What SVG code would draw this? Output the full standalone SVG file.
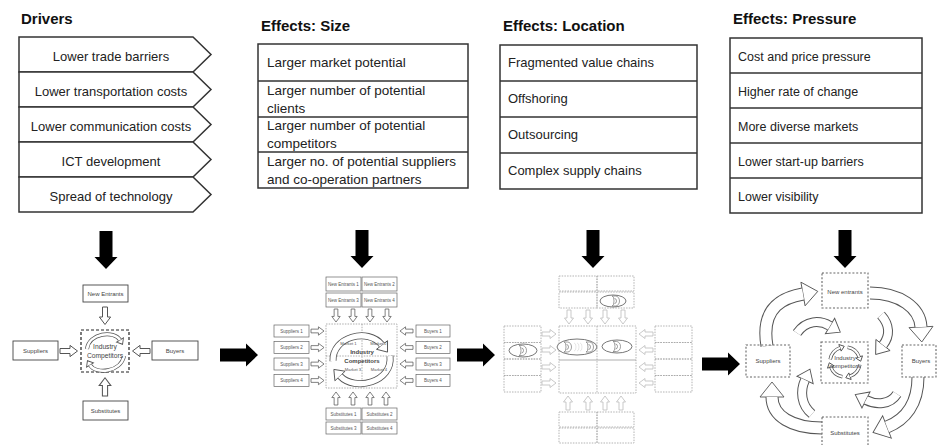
<svg xmlns="http://www.w3.org/2000/svg" xmlns:xlink="http://www.w3.org/1999/xlink" width="937" height="445" viewBox="0 0 937 445">
<style>
text{font-family:"Liberation Sans",Arial,sans-serif;fill:#222}
.title{font-size:15px;font-weight:bold;fill:#111}
.t13{font-size:13px}
.t135{font-size:13.5px}
.t125{font-size:12.5px}
.mid{text-anchor:middle}
.box{fill:#fff;stroke:#333;stroke-width:1.5}
.sep{stroke:#333;stroke-width:1.5}
.nb{fill:#fff;stroke:#444;stroke-width:0.9}
.nb2{fill:#fff;stroke:#666;stroke-width:0.7}
.dsh{fill:none;stroke:#222;stroke-width:1.2;stroke-dasharray:3 2}
.dsh2{fill:none;stroke:#999;stroke-width:0.8;stroke-dasharray:1.5 1.2}
.dsh3{fill:none;stroke:#aaa;stroke-width:0.9;stroke-dasharray:1.5 1.2}
.dsh4{fill:none;stroke:#666;stroke-width:1.1;stroke-dasharray:2 1.8}
.s6{font-size:6px;fill:#444}
.s45{font-size:4.5px;fill:#555}
.s42{font-size:4.2px;fill:#555}
.b6{font-size:6px;font-weight:bold;fill:#444}
.ha{fill:#fff;stroke:#555;stroke-width:0.8}
.ha2{fill:#fff;stroke:#bbb;stroke-width:0.8}
.blk{fill:#000}
.bo{fill:none;stroke:#555}
.bi{fill:none;stroke:#fff}
.hd{fill:#fff;stroke:#555;stroke-width:0.9}
.ov{fill:#fff;stroke:#777;stroke-width:1}
.cup{fill:#fff;stroke:#777;stroke-width:0.7}
</style>
<defs>
<path id="bigA" d="M-6.5,0 H6.5 V26 H11.5 L0,38 L-11.5,26 H-6.5 Z"/>
<path id="hA" d="M-2,0 H2 V8 H4.5 L0,14 L-4.5,8 H-2 Z"/>
<g id="cup">
<path d="M-3,-5 H0.5 A4,5 0 0 1 0.5,5 H-3 A2,5 0 0 0 -3,-5 Z"/>
<path d="M-0.5,-2.5 A2,2.5 0 0 1 -0.5,2.5" fill="none"/>
</g>
<marker id="mL" markerUnits="userSpaceOnUse" markerWidth="17" markerHeight="26" viewBox="-1 -13 17 26" refX="0" refY="0" orient="auto" overflow="visible"><path class="hd" d="M0,-12 L15,0 L0,12 Z"/></marker>
<marker id="mI" markerUnits="userSpaceOnUse" markerWidth="14" markerHeight="20" viewBox="-1 -10 14 20" refX="0" refY="0" orient="auto" overflow="visible"><path class="hd" d="M0,-9 L12,0 L0,9 Z"/></marker>
<marker id="mM" markerUnits="userSpaceOnUse" markerWidth="11" markerHeight="16" viewBox="-1 -8 11 16" refX="0" refY="0" orient="auto" overflow="visible"><path class="hd" d="M0,-7 L9,0 L0,7 Z"/></marker>
<marker id="mS" markerUnits="userSpaceOnUse" markerWidth="7" markerHeight="10" viewBox="-1 -5 7 10" refX="0" refY="0" orient="auto" overflow="visible"><path class="hd" d="M0,-4 L5,0 L0,4 Z" stroke-width="0.6"/></marker>
<marker id="mT" markerUnits="userSpaceOnUse" markerWidth="7" markerHeight="9" viewBox="-1 -4.5 7 9" refX="0" refY="0" orient="auto" overflow="visible"><path class="hd" d="M0,-3.5 L4.5,0 L0,3.5 Z" stroke-width="0.6"/></marker>
</defs>
<rect width="937" height="445" fill="#fff"/>

<!-- Drivers -->
<g id="drivers">
<text class="title" x="21" y="24">Drivers</text>
<path class="box" d="M19,37 H193 L211,54.5 L193,72 H19 Z"/>
<path class="box" d="M19,72 H193 L211,89.5 L193,107 H19 Z"/>
<path class="box" d="M19,107 H193 L211,124.5 L193,142 H19 Z"/>
<path class="box" d="M19,142 H193 L211,159.5 L193,177 H19 Z"/>
<path class="box" d="M19,177 H193 L211,194.5 L193,212 H19 Z"/>
<text class="t13 mid" x="111" y="60.5">Lower trade barriers</text>
<text class="t13 mid" x="111" y="95.5">Lower transportation costs</text>
<text class="t13 mid" x="111" y="130.5">Lower communication costs</text>
<text class="t13 mid" x="111" y="165.5">ICT development</text>
<text class="t13 mid" x="111" y="200.5">Spread of technology</text>
</g>

<!-- Effects: Size -->
<g id="effects-size">
<text class="title" x="261" y="31">Effects: Size</text>
<rect class="box" x="258" y="44" width="210" height="144"/>
<line class="sep" x1="258" y1="81" x2="468" y2="81"/>
<line class="sep" x1="258" y1="117" x2="468" y2="117"/>
<line class="sep" x1="258" y1="152" x2="468" y2="152"/>
<text class="t135" x="267" y="66.5">Larger market potential</text>
<text class="t135" x="267" y="94.5">Larger number of potential</text>
<text class="t135" x="267" y="112.5">clients</text>
<text class="t135" x="267" y="130">Larger number of potential</text>
<text class="t135" x="267" y="148">competitors</text>
<text class="t135" x="267" y="166">Larger no. of potential suppliers</text>
<text class="t135" x="267" y="184">and co-operation partners</text>
</g>

<!-- Effects: Location -->
<g id="effects-location">
<text class="title" x="503" y="31">Effects: Location</text>
<rect class="box" x="500" y="45" width="197" height="144"/>
<line class="sep" x1="500" y1="81" x2="697" y2="81"/>
<line class="sep" x1="500" y1="117" x2="697" y2="117"/>
<line class="sep" x1="500" y1="153" x2="697" y2="153"/>
<text class="t13" x="508" y="67">Fragmented value chains</text>
<text class="t13" x="508" y="103">Offshoring</text>
<text class="t13" x="508" y="139">Outsourcing</text>
<text class="t13" x="508" y="175">Complex supply chains</text>
</g>

<!-- Effects: Pressure -->
<g id="effects-pressure">
<text class="title" x="733" y="24">Effects: Pressure</text>
<rect class="box" x="730" y="38" width="192" height="175"/>
<line class="sep" x1="730" y1="73" x2="922" y2="73"/>
<line class="sep" x1="730" y1="108" x2="922" y2="108"/>
<line class="sep" x1="730" y1="143" x2="922" y2="143"/>
<line class="sep" x1="730" y1="178" x2="922" y2="178"/>
<text class="t125" x="738" y="61">Cost and price pressure</text>
<text class="t125" x="738" y="96">Higher rate of change</text>
<text class="t125" x="738" y="131">More diverse markets</text>
<text class="t125" x="738" y="166">Lower start-up barriers</text>
<text class="t125" x="738" y="201">Lower visibility</text>
</g>

<!-- Big black arrows -->
<g id="connectors">
<use href="#bigA" class="blk" transform="translate(106,231)"/>
<use href="#bigA" class="blk" transform="translate(362,230)"/>
<use href="#bigA" class="blk" transform="translate(593,230)"/>
<use href="#bigA" class="blk" transform="translate(845,230)"/>
<use href="#bigA" class="blk" transform="translate(220,355) rotate(-90)"/>
<use href="#bigA" class="blk" transform="translate(457,355) rotate(-90)"/>
<use href="#bigA" class="blk" transform="translate(702,364) rotate(-90)"/>
</g>

<!-- Diagram 1: Five forces -->
<g id="ff1">
<rect class="nb" x="83" y="285" width="45" height="17"/>
<text class="s6 mid" x="105.5" y="295.5">New Entrants</text>
<rect class="nb" x="13" y="341" width="45" height="19"/>
<text class="s6 mid" x="35.5" y="352.5">Suppliers</text>
<rect class="nb" x="152" y="341" width="46" height="19"/>
<text class="s6 mid" x="175" y="352.5">Buyers</text>
<rect class="nb" x="83" y="401" width="45" height="19"/>
<text class="s6 mid" x="105.5" y="412.5">Substitutes</text>
<rect class="dsh" x="81" y="330" width="48" height="42"/>
<use href="#hA" class="ha" transform="translate(105,307) scale(1.25)"/>
<use href="#hA" class="ha" transform="translate(105,396) rotate(180) scale(1.3)"/>
<use href="#hA" class="ha" transform="translate(60,351) rotate(-90) scale(1.25)"/>
<use href="#hA" class="ha" transform="translate(150,351) rotate(90) scale(1.25)"/>
<path class="bo" stroke-width="4" d="M87,349 C89,333 114,330 120,340" marker-end="url(#mS)"/>
<path class="bi" stroke-width="2.6" d="M87,349 C89,333 114,330 120,340"/>
<path class="bo" stroke-width="4" d="M124,356 C121,372 96,375 90,365" marker-end="url(#mS)"/>
<path class="bi" stroke-width="2.6" d="M124,356 C121,372 96,375 90,365"/>
<text class="mid" x="105" y="349" style="font-size:6.7px;fill:#444">Industry</text>
<text class="mid" x="105" y="357.5" style="font-size:6.7px;fill:#444">Competitors</text>
</g>

<!-- Diagram 2: segmented five forces -->
<g id="ff2">
<rect class="nb2" x="326" y="277" width="35" height="14"/>
<rect class="nb2" x="362" y="277" width="35" height="14"/>
<rect class="nb2" x="326" y="293" width="35" height="14"/>
<rect class="nb2" x="362" y="293" width="35" height="14"/>
<text class="s45 mid" x="343.5" y="285.6">New Entrants 1</text>
<text class="s45 mid" x="379.5" y="285.6">New Entrants 2</text>
<text class="s45 mid" x="343.5" y="301.6">New Entrants 3</text>
<text class="s45 mid" x="379.5" y="301.6">New Entrants 4</text>
<rect class="nb2" x="274" y="325" width="35" height="12"/>
<rect class="nb2" x="274" y="341.5" width="35" height="12"/>
<rect class="nb2" x="274" y="358" width="35" height="12"/>
<rect class="nb2" x="274" y="374.5" width="35" height="12"/>
<text class="s45 mid" x="291.5" y="332.6">Suppliers 1</text>
<text class="s45 mid" x="291.5" y="349.1">Suppliers 2</text>
<text class="s45 mid" x="291.5" y="365.6">Suppliers 3</text>
<text class="s45 mid" x="291.5" y="382.1">Suppliers 4</text>
<rect class="nb2" x="416" y="325" width="34" height="12"/>
<rect class="nb2" x="416" y="341.5" width="34" height="12"/>
<rect class="nb2" x="416" y="358" width="34" height="12"/>
<rect class="nb2" x="416" y="374.5" width="34" height="12"/>
<text class="s45 mid" x="433" y="332.6">Buyers 1</text>
<text class="s45 mid" x="433" y="349.1">Buyers 2</text>
<text class="s45 mid" x="433" y="365.6">Buyers 3</text>
<text class="s45 mid" x="433" y="382.1">Buyers 4</text>
<rect class="nb2" x="326" y="408" width="35" height="12"/>
<rect class="nb2" x="362" y="408" width="35" height="12"/>
<rect class="nb2" x="326" y="422" width="35" height="12"/>
<rect class="nb2" x="362" y="422" width="35" height="12"/>
<text class="s45 mid" x="343.5" y="415.6">Substitutes 1</text>
<text class="s45 mid" x="379.5" y="415.6">Substitutes 2</text>
<text class="s45 mid" x="343.5" y="429.6">Substitutes 3</text>
<text class="s45 mid" x="379.5" y="429.6">Substitutes 4</text>
<rect class="dsh2" x="326" y="324" width="71" height="64"/>
<line class="dsh2" x1="362" y1="324" x2="362" y2="388"/>
<line class="dsh2" x1="326" y1="356" x2="397" y2="356"/>
<use href="#hA" class="ha" transform="translate(336,309) scale(0.93)"/>
<use href="#hA" class="ha" transform="translate(353,309) scale(0.93)"/>
<use href="#hA" class="ha" transform="translate(370,309) scale(0.93)"/>
<use href="#hA" class="ha" transform="translate(387,309) scale(0.93)"/>
<use href="#hA" class="ha" transform="translate(336,405) rotate(180) scale(0.93)"/>
<use href="#hA" class="ha" transform="translate(353,405) rotate(180) scale(0.93)"/>
<use href="#hA" class="ha" transform="translate(370,405) rotate(180) scale(0.93)"/>
<use href="#hA" class="ha" transform="translate(386,405) rotate(180) scale(0.93)"/>
<use href="#hA" class="ha" transform="translate(311,331) rotate(-90) scale(0.93)"/>
<use href="#hA" class="ha" transform="translate(311,347.5) rotate(-90) scale(0.93)"/>
<use href="#hA" class="ha" transform="translate(311,364) rotate(-90) scale(0.93)"/>
<use href="#hA" class="ha" transform="translate(311,380.5) rotate(-90) scale(0.93)"/>
<use href="#hA" class="ha" transform="translate(413,331) rotate(90) scale(0.93)"/>
<use href="#hA" class="ha" transform="translate(413,347.5) rotate(90) scale(0.93)"/>
<use href="#hA" class="ha" transform="translate(413,364) rotate(90) scale(0.93)"/>
<use href="#hA" class="ha" transform="translate(413,380.5) rotate(90) scale(0.93)"/>
<path class="bo" stroke-width="7" d="M333,361 C332,337 368,327 382,345" marker-end="url(#mM)"/>
<path class="bi" stroke-width="5.4" d="M333,361 C332,337 368,327 382,345"/>
<path class="bo" stroke-width="7" d="M390,356 C393,382 355,392 340,376" marker-end="url(#mM)"/>
<path class="bi" stroke-width="5.4" d="M390,356 C393,382 355,392 340,376"/>
<text class="s42 mid" x="348.5" y="345">Market 1</text>
<text class="s42 mid" x="378.5" y="345">Market 2</text>
<text class="s42 mid" x="353" y="371">Market 3</text>
<text class="s42 mid" x="379" y="371">Market 4</text>
<text class="b6 mid" x="362" y="354">Industry</text>
<text class="b6 mid" x="362" y="362.5">Competitors</text>
</g>

<!-- Diagram 3: fragmented value chains -->
<g id="ff3">
<rect class="dsh3" x="559" y="276" width="38" height="15"/>
<rect class="dsh3" x="597" y="276" width="37" height="15"/>
<rect class="dsh3" x="559" y="292" width="38" height="16"/>
<rect class="dsh3" x="597" y="292" width="37" height="16"/>
<ellipse class="ov" cx="613" cy="301" rx="13" ry="6"/>
<use href="#cup" class="cup" x="615" y="301"/>
<rect class="dsh3" x="504" y="326" width="37" height="16.5"/>
<rect class="dsh3" x="504" y="342.5" width="37" height="16.5"/>
<rect class="dsh3" x="504" y="359" width="37" height="16.5"/>
<rect class="dsh3" x="504" y="375.5" width="37" height="16.5"/>
<ellipse class="ov" cx="523" cy="350.5" rx="14" ry="6.5"/>
<use href="#cup" class="cup" x="522" y="350.5"/>
<rect class="dsh3" x="655" y="326" width="37" height="16.5"/>
<rect class="dsh3" x="655" y="342.5" width="37" height="16.5"/>
<rect class="dsh3" x="655" y="359" width="37" height="16.5"/>
<rect class="dsh3" x="655" y="375.5" width="37" height="16.5"/>
<rect class="dsh3" x="559" y="326" width="77" height="67"/>
<line class="dsh3" x1="597" y1="326" x2="597" y2="393"/>
<line x1="559" y1="360" x2="636" y2="360" stroke="#999" stroke-width="0.8"/>
<ellipse class="ov" cx="577" cy="347" rx="20" ry="8"/>
<path d="M574,343 a2,4 0 0 1 0,8 M577,343 a2,4 0 0 1 0,8 M580,343 a2,4 0 0 1 0,8" fill="none" stroke="#ddd" stroke-width="0.7"/>
<use href="#cup" class="cup" x="567" y="347"/>
<use href="#cup" class="cup" x="589" y="347"/>
<ellipse class="ov" cx="617" cy="346.5" rx="15" ry="6.5"/>
<use href="#cup" class="cup" x="616" y="346.5"/>
<rect class="dsh3" x="559" y="412" width="38" height="15"/>
<rect class="dsh3" x="597" y="412" width="37" height="15"/>
<rect class="dsh3" x="559" y="428" width="38" height="15"/>
<rect class="dsh3" x="597" y="428" width="37" height="15"/>
<use href="#hA" class="ha2" transform="translate(569,310)"/>
<use href="#hA" class="ha2" transform="translate(588,310)"/>
<use href="#hA" class="ha2" transform="translate(605,310)"/>
<use href="#hA" class="ha2" transform="translate(623,310)"/>
<use href="#hA" class="ha2" transform="translate(568,410) rotate(180)"/>
<use href="#hA" class="ha2" transform="translate(588,410) rotate(180)"/>
<use href="#hA" class="ha2" transform="translate(605,410) rotate(180)"/>
<use href="#hA" class="ha2" transform="translate(621,410) rotate(180)"/>
<use href="#hA" class="ha2" transform="translate(542,334) rotate(-90)"/>
<use href="#hA" class="ha2" transform="translate(542,350) rotate(-90)"/>
<use href="#hA" class="ha2" transform="translate(542,367) rotate(-90)"/>
<use href="#hA" class="ha2" transform="translate(542,383) rotate(-90)"/>
<use href="#hA" class="ha2" transform="translate(653,334) rotate(90)"/>
<use href="#hA" class="ha2" transform="translate(653,350) rotate(90)"/>
<use href="#hA" class="ha2" transform="translate(653,367) rotate(90)"/>
<use href="#hA" class="ha2" transform="translate(653,383) rotate(90)"/>
</g>

<!-- Diagram 4: pressure cycle -->
<g id="ff4-arrows">
<path class="bo" stroke-width="13" d="M767,346 C760,305 786,297 803,294" marker-end="url(#mL)"/>
<path class="bi" stroke-width="11" d="M767,346 C760,305 786,297 803,294"/>
<path class="bo" stroke-width="13" d="M870,293 C900,293 920,308 921,327" marker-end="url(#mL)"/>
<path class="bi" stroke-width="11" d="M870,293 C900,293 920,308 921,327"/>
<path class="bo" stroke-width="13" d="M918,377 C918,404 905,420 887,427" marker-end="url(#mL)"/>
<path class="bi" stroke-width="11" d="M918,377 C918,404 905,420 887,427"/>
<path class="bo" stroke-width="13" d="M822,428 C792,428 772,416 772,397" marker-end="url(#mL)"/>
<path class="bi" stroke-width="11" d="M822,428 C792,428 772,416 772,397"/>
<path class="bo" stroke-width="10" d="M797,333 C806,320 820,320 830,326" marker-end="url(#mI)"/>
<path class="bi" stroke-width="8" d="M797,333 C806,320 820,320 830,326"/>
<path class="bo" stroke-width="10" d="M881,315 C890,325 890,336 883,345" marker-end="url(#mI)"/>
<path class="bi" stroke-width="8" d="M881,315 C890,325 890,336 883,345"/>
<path class="bo" stroke-width="10" d="M897,394 C890,405 876,405 866,400" marker-end="url(#mI)"/>
<path class="bi" stroke-width="8" d="M897,394 C890,405 876,405 866,400"/>
<path class="bo" stroke-width="10" d="M812,414 C801,405 800,391 805,380" marker-end="url(#mI)"/>
<path class="bi" stroke-width="8" d="M812,414 C801,405 800,391 805,380"/>
</g>
<g id="ff4-new-entrants">
<rect class="dsh4" x="822" y="273" width="46" height="35" fill="#fff"/>
<text class="s6 mid" x="845" y="294">New entrants</text>
</g>
<g id="ff4-suppliers">
<rect class="dsh4" x="746" y="345" width="44" height="32"/>
<text class="s6 mid" x="768" y="363">Suppliers</text>
</g>
<g id="ff4-buyers">
<rect class="dsh4" x="902" y="345" width="34" height="32"/>
<text class="s6 mid" x="921" y="363">Buyers</text>
</g>
<g id="ff4-substitutes">
<rect class="dsh4" x="822" y="417" width="46" height="33"/>
<text class="s6 mid" x="845" y="435">Substitutes</text>
</g>
<g id="ff4-industry">
<rect class="dsh4" x="821" y="342" width="47" height="41"/>
<path class="bo" stroke-width="3.5" d="M830.2,359.4 A15,15 0 0 1 840,347.8" marker-end="url(#mT)"/>
<path class="bi" stroke-width="2" d="M830.2,359.4 A15,15 0 0 1 840,347.8"/>
<path class="bo" stroke-width="3.5" d="M847.6,347.2 A15,15 0 0 1 859.2,357" marker-end="url(#mT)"/>
<path class="bi" stroke-width="2" d="M847.6,347.2 A15,15 0 0 1 859.2,357"/>
<path class="bo" stroke-width="3.5" d="M859.8,364.6 A15,15 0 0 1 850,376.2" marker-end="url(#mT)"/>
<path class="bi" stroke-width="2" d="M859.8,364.6 A15,15 0 0 1 850,376.2"/>
<path class="bo" stroke-width="3.5" d="M842.4,376.8 A15,15 0 0 1 830.8,367" marker-end="url(#mT)"/>
<path class="bi" stroke-width="2" d="M842.4,376.8 A15,15 0 0 1 830.8,367"/>
<text class="s6 mid" x="845" y="360">Industry</text>
<text class="s6 mid" x="845" y="368">competitors</text>
</g>
</svg>
